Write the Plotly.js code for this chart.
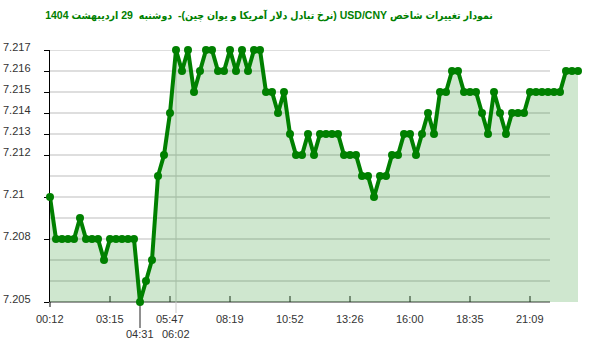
<!DOCTYPE html>
<html>
<head>
<meta charset="utf-8">
<script src="https://cdn.plot.ly/plotly-3.0.1.min.js"></script>
<style>html,body{margin:0;padding:0;background:#fff;}#chart{width:600px;height:352px;}</style>
</head>
<body>
<div id="chart"></div>
<script>
// ---- data ----
const titleText = 'نمودار تغییرات شاخص USD/CNY (نرخ تبادل دلار آمریکا و یوان چین)-  دوشنبه  29 اردیبهشت 1404';
const values = [
  7.210, 7.208, 7.208, 7.208, 7.208, 7.209, 7.208, 7.208, 7.208, 7.207,
  7.208, 7.208, 7.208, 7.208, 7.208, 7.205, 7.206, 7.207, 7.211, 7.212,
  7.214, 7.217, 7.216, 7.217, 7.215, 7.216, 7.217, 7.217, 7.216, 7.216,
  7.217, 7.216, 7.217, 7.216, 7.217, 7.217, 7.215, 7.215, 7.214, 7.215,
  7.213, 7.212, 7.212, 7.213, 7.212, 7.213, 7.213, 7.213, 7.213, 7.212,
  7.212, 7.212, 7.211, 7.211, 7.210, 7.211, 7.211, 7.212, 7.212, 7.213,
  7.213, 7.212, 7.213, 7.214, 7.213, 7.215, 7.215, 7.216, 7.216, 7.215,
  7.215, 7.215, 7.214, 7.213, 7.215, 7.214, 7.213, 7.214, 7.214, 7.214,
  7.215, 7.215, 7.215, 7.215, 7.215, 7.215, 7.216, 7.216, 7.216
];
const xTickIdx    = [0, 10, 15, 20, 21, 30, 40, 50, 60, 70, 80];
const xTickLabels = ['00:12', '03:15', '04:31', '05:47', '06:02', '08:19', '10:52', '13:26', '16:00', '18:35', '21:09'];
const xTickRow    = [0, 0, 1, 0, 1, 0, 0, 0, 0, 0, 0];
const xTickStyle  = ['none', 'in', 'long', 'in', 'line', 'in', 'in', 'in', 'in', 'in', 'in'];
const yGridVals   = [7.206, 7.207, 7.208, 7.209, 7.210, 7.211, 7.212, 7.213, 7.214, 7.215, 7.216, 7.217];
const yTickVals   = [7.205, 7.208, 7.210, 7.212, 7.213, 7.214, 7.215, 7.216, 7.217];
const yTickLabels = ['7.205', '7.208', '7.21', '7.212', '7.213', '7.214', '7.215', '7.216', '7.217'];

// ---- layout constants ----
const W = 600, H = 352;
const M = {l: 50, r: 22, t: 50, b: 50};
const plotW = W - M.l - M.r, plotH = H - M.t - M.b;
const gridEndFrac = (550 - M.l) / plotW;
const GREEN = '#008000';
const FONT = 'Arial, "Liberation Sans", sans-serif';
const LABEL = '#333';

const xs = values.map((_, i) => i);

const trace = {
  x: xs, y: values, type: 'scatter', mode: 'lines+markers',
  line: {color: GREEN, width: 4},
  marker: {color: GREEN, size: 8},
  fill: 'tozeroy', fillcolor: 'rgba(0,128,0,0.19)',
  cliponaxis: false, hoverinfo: 'skip'
};

const shapes = [];
yGridVals.forEach(v => shapes.push({
  type: 'line', layer: 'below', xref: 'paper', yref: 'y',
  x0: 0, x1: gridEndFrac, y0: v, y1: v,
  line: {color: '#bdbdbd', width: 1}
}));
shapes.push({type: 'line', layer: 'below', xref: 'paper', yref: 'paper',
  x0: 0, x1: gridEndFrac, y0: 0, y1: 0, line: {color: '#333', width: 1}});
shapes.push({type: 'line', layer: 'below', xref: 'paper', yref: 'paper', ysizemode: 'pixel', yanchor: 0,
  x0: 0, x1: 0, y0: 0, y1: -5, line: {color: '#000', width: 1}});
xTickIdx.forEach((ix, k) => {
  const st = xTickStyle[k];
  if (st === 'in') shapes.push({type: 'line', layer: 'below', xref: 'x', yref: 'paper', ysizemode: 'pixel', yanchor: 0,
    x0: ix, x1: ix, y0: 0, y1: 6, line: {color: '#222', width: 1}});
  else if (st === 'long') shapes.push({type: 'line', layer: 'below', xref: 'x', yref: 'paper', ysizemode: 'pixel', yanchor: 0,
    x0: ix, x1: ix, y0: 0, y1: -26, line: {color: '#222', width: 1}});
  else if (st === 'line') shapes.push({type: 'line', layer: 'below', xref: 'x', yref: 'paper', ysizemode: 'pixel', yanchor: 0,
    x0: ix, x1: ix, y0: -11, y1: plotH, line: {color: '#cccccc', width: 1}});
});

const annotations = yTickVals.map((v, k) => ({
  xref: 'paper', yref: 'y', x: 0, y: v, xanchor: 'left', yanchor: 'middle',
  xshift: -49, yshift: 3, showarrow: false, text: yTickLabels[k],
  font: {family: FONT, size: 11, color: LABEL}
}));
xTickIdx.forEach((ix, k) => annotations.push({
  xref: 'x', yref: 'paper', x: ix, y: 0, xanchor: 'center', yanchor: 'middle',
  yshift: xTickRow[k] ? -31.5 : -16.5, showarrow: false, text: xTickLabels[k],
  font: {family: FONT, size: 11, color: LABEL}
}));

const layout = {
  width: W, height: H, margin: M,
  paper_bgcolor: '#fff', plot_bgcolor: '#fff', showlegend: false,
  title: {text: '<b>\u202B' + titleText + '\u202C</b>', xref: 'container', yref: 'container',
    x: 269 / W, xanchor: 'center', y: 1 - 15 / H, yanchor: 'middle',
    font: {family: '"Liberation Sans", "DejaVu Sans Condensed", "DejaVu Sans", sans-serif', size: 10.5, color: GREEN}},
  xaxis: {range: [0, values.length - 1], showgrid: false, zeroline: false, showline: false,
    ticks: '', showticklabels: false, fixedrange: true},
  yaxis: {range: [7.205, 7.217], showgrid: false, zeroline: false, showline: true, linecolor: '#000', linewidth: 1,
    layer: 'below traces', ticks: 'outside', ticklen: 5, tickcolor: '#000', tickmode: 'array', tickvals: yTickVals,
    showticklabels: false, fixedrange: true},
  shapes: shapes, annotations: annotations
};

Plotly.newPlot('chart', [trace], layout, {displayModeBar: false, staticPlot: true});
</script>
</body>
</html>
